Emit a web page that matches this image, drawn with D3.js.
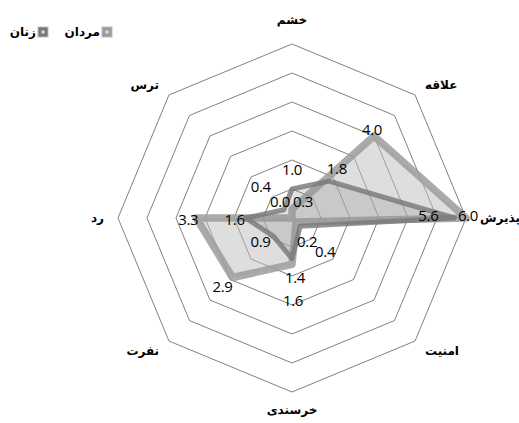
<!DOCTYPE html>
<html><head><meta charset="utf-8">
<script src="https://cdn.jsdelivr.net/npm/d3@7/dist/d3.min.js"></script>
<style>body{margin:0;background:#fff}</style>
</head><body>
<svg id="chart" width="519" height="423"></svg>
<script>
// ---- data ----
const categories = ["خشم","علاقه","پذیرش","امنیت","خرسندی","نفرت","رد","ترس"];
const seriesNames = ["مردان","زنان"];
const valuesA = [0.3, 4.0, 6.0, 0.2, 1.6, 2.9, 3.3, 0.0];
const valuesB = [1.0, 1.8, 5.6, 0.4, 1.4, 0.9, 1.6, 0.4];
const ringTicks = [1, 2, 3, 4, 5, 6];

// ---- layout ----
const cx = 292, cy = 218, R = 174;
const svg = d3.select("#chart");
const r = d3.scaleLinear().domain([0, 6]).range([0, R]);
const ang = d3.scalePoint().domain(d3.range(categories.length)).range([0, 2*Math.PI*(categories.length-1)/categories.length]);
const g = svg.append("g").attr("transform", `translate(${cx},${cy})`);
const pt = (i, v) => [r(v)*Math.sin(ang(i)), -r(v)*Math.cos(ang(i))];

// grid rings
const ringLine = d3.lineRadial().angle((d,i)=>ang(i)).radius(d=>r(d)).curve(d3.curveLinearClosed);
g.selectAll(".ring").data(ringTicks).join("path")
  .attr("d", t => ringLine(categories.map(()=>t)))
  .attr("fill","none").attr("stroke","#808080").attr("stroke-width",1);

// series
const sLine = d3.lineRadial().angle((d,i)=>ang(i)).radius(d=>r(d)).curve(d3.curveLinearClosed);
const styles = [
  {fill:"#bdbdbd", fo:0.5, stroke:"#9c9c9c", sw:7.5, so:0.85},
  {fill:"#8a8a8a", fo:0.25, stroke:"#777777", sw:5, so:0.8}
];
[valuesA, valuesB].forEach((vals, k) => {
  g.append("path").attr("d", sLine(vals))
    .attr("fill", styles[k].fill).attr("fill-opacity", styles[k].fo)
    .attr("stroke", styles[k].stroke).attr("stroke-opacity", styles[k].so)
    .attr("stroke-width", styles[k].sw).attr("stroke-linejoin","round");
});

// data labels (relative nudges from each point)
const nudgeA = [[11,-8],[-2,-7],[2,-3],[11,19],[1,36],[-10,9],[-8,1],[-12,-17]];
const nudgeB = [[0,-20],[8,-13],[-26,-3],[25,25],[3,18],[-13,5],[-11,1],[-23,-24]];
[[valuesA, nudgeA],[valuesB, nudgeB]].forEach(([vals, nud]) => {
  g.selectAll(null).data(vals).join("text")
    .attr("x", (v,i) => pt(i,v)[0] + nud[i][0])
    .attr("y", (v,i) => pt(i,v)[1] + nud[i][1])
    .attr("text-anchor","middle").attr("dominant-baseline","central")
    .attr("font-family","'Open Sans', sans-serif").attr("font-size",15).attr("letter-spacing","-0.3").attr("fill","#000")
    .text(v => d3.format(".1f")(v));
});

// category labels
g.selectAll(".cat").data(categories).join("text")
  .attr("x", (c,i) => (R+14)*Math.sin(ang(i)))
  .attr("y", (c,i) => { const c0 = Math.cos(ang(i)); return -(R+14)*c0 + (c0 > 0.99 ? -10 : c0 < -0.99 ? 4 : 0); })
  .attr("text-anchor", (c,i) => { const s = Math.sin(ang(i)); return Math.abs(s) < 0.01 ? "middle" : (s > 0 ? "start" : "end"); })
  .attr("dominant-baseline","central")
  .attr("font-family","'DejaVu Sans', sans-serif").attr("font-weight","bold").attr("font-size",12).attr("fill","#000")
  .text(c => c);

// legend
const legend = svg.append("g").attr("transform","translate(0,32)");
const legItems = [{name: seriesNames[0], k:0, x:112}, {name: seriesNames[1], k:1, x:48}];
legItems.forEach(it => {
  legend.append("rect").attr("x", it.x-10).attr("y",-5).attr("width",10).attr("height",10)
    .attr("fill", styles[it.k].stroke).attr("stroke","#bbb");
  legend.append("rect").attr("x", it.x-6.5).attr("y",-1.5).attr("width",3).attr("height",3)
    .attr("fill", "#ddd");
  legend.append("text").attr("x", it.x-12).attr("y",0).attr("text-anchor","end")
    .attr("dominant-baseline","central")
    .attr("font-family","'DejaVu Sans', sans-serif").attr("font-weight","bold").attr("font-size",12).attr("fill","#000")
    .text(it.name);
});
</script>
</body></html>
